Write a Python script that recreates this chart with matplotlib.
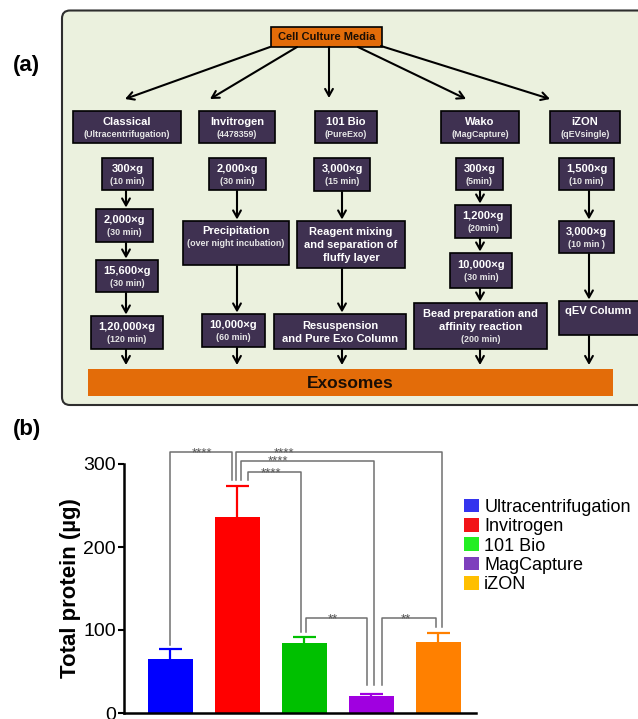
import matplotlib
matplotlib.use('Agg')
import matplotlib.pyplot as plt
from matplotlib.patches import Rectangle, FancyBboxPatch, Patch

plt.rcParams['font.family'] = ['Liberation Sans', 'DejaVu Sans']

# ---------------- data: panel (b) ----------------
methods = ['Ultracentrifugation', 'Invitrogen', '101 Bio', 'MagCapture', 'iZON']
protein_mean = [65, 236.5, 84, 20.5, 86]
protein_err = [12.5, 37, 8, 2.5, 10.5]
bar_colors = ['#0000FF', '#FF0000', '#00C000', '#A000E0', '#FF8000']
legend_colors = ['#3434EE', '#F21418', '#22EE22', '#7E3FBD', '#FFBF00']
yticks = [0, 100, 200, 300]
leg_bottom = [82, 281, 97, 34, 104]
# significance brackets: (group i, group j, label, bracket height)
sig_i = [0, 1, 1, 1, 2, 3]
sig_j = [1, 4, 3, 2, 3, 4]
sig_label = ['****', '****', '****', '****', '**', '**']
sig_level = [314, 314, 304, 290, 114, 114]

# ---------------- data: panel (a) flow chart ----------------
top_label = 'Cell Culture Media'
bottom_label = 'Exosomes'
headers = [('Classical', '(Ultracentrifugation)'),
           ('Invitrogen', '(4478359)'),
           ('101 Bio', '(PureExo)'),
           ('Wako', '(MagCapture)'),
           ('iZON', '(qEVsingle)')]
steps = [
    [[('300×g', 't'), ('(10 min)', 's')],
     [('2,000×g', 't'), ('(30 min)', 's')],
     [('15,600×g', 't'), ('(30 min)', 's')],
     [('1,20,000×g', 't'), ('(120 min)', 's')]],
    [[('2,000×g', 't'), ('(30 min)', 's')],
     [('Precipitation', 't'), ('(over night incubation)', 's')],
     [('10,000×g', 't'), ('(60 min)', 's')]],
    [[('3,000×g', 't'), ('(15 min)', 's')],
     [('Reagent mixing', 't'), ('and separation of', 't'), ('fluffy layer', 't')],
     [('Resuspension', 't'), ('and Pure Exo Column', 't')]],
    [[('300×g', 't'), ('(5min)', 's')],
     [('1,200×g', 't'), ('(20min)', 's')],
     [('10,000×g', 't'), ('(30 min)', 's')],
     [('Bead preparation and', 't'), ('affinity reaction', 't'), ('(200 min)', 's')]],
    [[('1,500×g', 't'), ('(10 min)', 's')],
     [('3,000×g', 't'), ('(10 min )', 's')],
     [('qEV Column', 't')]],
]

# ---------------- layout of the flow chart (pixels) ----------------
header_box = [(73, 181), (199, 275), (315, 377), (441, 519), (550, 620)]
step_box = [
    [(102, 153, 158, 190), (96, 153, 209, 242), (96, 158, 260, 292), (91, 163, 316, 349)],
    [(209, 266, 158, 190), (183, 289, 221, 265), (202, 265, 314, 347)],
    [(314, 370, 158, 191), (297, 405, 221, 268), (274, 406, 314, 349)],
    [(456, 503, 158, 190), (455, 511, 205, 238), (450, 512, 253, 288), (414, 547, 303, 349)],
    [(559, 614, 158, 190), (559, 614, 221, 253), (559, 640, 301, 335)],
]
step_anchor = [
    ['c', 'c', 'c', 'c'],
    ['c', 'top', 'c'],
    ['c', 'c', 'c'],
    ['c', 'c', 'c', 'c'],
    ['c', 'c', 'top'],
]
col_arrow_x = [126, 237, 342, 480, 589]
top_arrows = [((270, 47), (125, 99)), ((297, 47), (210, 99)), ((329, 47), (329, 98)),
              ((358, 47), (466, 99)), ((381, 46), (550, 99))]

W, H = 638, 719
fig = plt.figure(figsize=(W / 100, H / 100), dpi=100)
fig.patch.set_facecolor('white')

ax0 = fig.add_axes([0, 0, 1, 1], zorder=0)
ax0.set_xlim(0, W)
ax0.set_ylim(H, 0)
ax0.axis('off')

PURPLE = '#3F3151'
ORANGE = '#E36C09'
BG = '#EBF1DE'

ax0.add_patch(FancyBboxPatch((62, 10.5), 600, 394.5,
                             boxstyle='round,pad=0,rounding_size=8',
                             fc=BG, ec='#2e2e2e', lw=1.5))

# top box
ax0.add_patch(Rectangle((271, 27), 111, 20, fc=ORANGE, ec='black', lw=1.2))
ax0.text(326.5, 37.5, top_label, ha='center', va='center', fontsize=8,
         fontweight='bold', color='#1a0e05')

arrow_kw = dict(arrowstyle='->,head_length=0.5,head_width=0.28', lw=1.5,
                color='black', shrinkA=0, shrinkB=0, mutation_scale=10)

for (s, e) in top_arrows:
    ax0.annotate('', xy=e, xytext=s, arrowprops=arrow_kw)

LH = {'t': 13.0, 's': 12.0}
FS = {'t': 8, 's': 6.4}
FC = {'t': 'white', 's': '#e6e6e6'}


def draw_box(x0, x1, y0, y1, lines, anchor='c'):
    ax0.add_patch(Rectangle((x0, y0), x1 - x0, y1 - y0, fc=PURPLE, ec='black', lw=1.2))
    total = sum(LH[k] for _, k in lines)
    if anchor == 'top':
        y = y0 + 4.0
    else:
        y = (y0 + y1) / 2 - total / 2 + 0.8
    cx = (x0 + min(x1, W)) / 2
    for txt, k in lines:
        ax0.text(cx, y + LH[k] / 2, txt, ha='center', va='center',
                 fontsize=FS[k], fontweight='bold', color=FC[k])
        y += LH[k]


for (x0, x1), (t, s) in zip(header_box, headers):
    draw_box(x0, x1, 111, 143, [(t, 't'), (s, 's')])

for c in range(len(steps)):
    boxes = step_box[c]
    for b, lines, anc in zip(boxes, steps[c], step_anchor[c]):
        draw_box(*b, lines, anchor=anc)
    xa = col_arrow_x[c]
    for k in range(len(boxes)):
        ys = boxes[k][3] + 1
        ye = boxes[k + 1][2] - 1.5 if k + 1 < len(boxes) else 365
        ax0.annotate('', xy=(xa, ye), xytext=(xa, ys), arrowprops=arrow_kw)

# exosomes bar
ax0.add_patch(Rectangle((88, 369), 525, 27, fc=ORANGE, ec='none'))
ax0.text(350.5, 383, bottom_label, ha='center', va='center', fontsize=12.5,
         fontweight='bold', color='#1a0e05')

fig.text(13 / W, 1 - 66 / H, '(a)', fontsize=16, fontweight='bold', va='center', ha='left')
fig.text(13 / W, 1 - 430 / H, '(b)', fontsize=16, fontweight='bold', va='center', ha='left')

# ---------------- panel (b) ----------------
ax = fig.add_axes([124 / W, 1 - 713 / H, 352 / W, 249 / H], zorder=2)
ax.set_facecolor('none')
x = list(range(len(methods)))
ax.bar(x, protein_mean, width=0.67, color=bar_colors, zorder=2)
tops = [m + e for m, e in zip(protein_mean, protein_err)]
ax.vlines(x, protein_mean, tops, colors=bar_colors, lw=1.6, zorder=3)
ax.hlines(tops, [xi - 0.172 for xi in x], [xi + 0.172 for xi in x],
          colors=bar_colors, lw=1.6, zorder=3)

ax.set_xlim(-0.694, 4.56)
ax.set_ylim(0, 300)
ax.set_yticks(yticks)
ax.set_xticks([])
for sp in ['top', 'right']:
    ax.spines[sp].set_visible(False)
for sp in ['left', 'bottom']:
    ax.spines[sp].set_linewidth(1.8)
ax.tick_params(axis='y', labelsize=14, length=4, width=1.5, pad=2)
ax.set_ylabel('Total protein (µg)', fontsize=16, fontweight='bold')
ax.yaxis.set_label_coords(-0.122, 0.5)

# bracket leg offsets from bar centres and star label positions
leg_off_i = [0.0, -0.022, 0.052, 0.157, 0.018, 0.157]
leg_off_j = [-0.082, 0.048, 0.042, -0.057, -0.072, -0.042]
label_x = [0.47, 1.694, 1.604, 1.5, 2.43, 3.51]
for k in range(len(sig_i)):
    i, j = sig_i[k], sig_j[k]
    xi_, xj_ = i + leg_off_i[k], j + leg_off_j[k]
    lv = sig_level[k]
    ax.plot([xi_, xi_, xj_, xj_], [leg_bottom[i], lv, lv, leg_bottom[j]],
            color='#707070', lw=1.1, clip_on=False, zorder=4)
    ax.text(label_x[k], lv - 5, sig_label[k], ha='center', va='baseline',
            fontsize=9.5, color='#555555', clip_on=False, zorder=5)

handles = [Patch(facecolor=c, edgecolor='none') for c in legend_colors]
ax.legend(handles, methods, loc='center left', bbox_to_anchor=(464 / W, 1 - 546 / H),
          bbox_transform=fig.transFigure, frameon=False, fontsize=13,
          handlelength=0.82, handleheight=0.77, handletextpad=0.3,
          labelspacing=0.13, borderpad=0, borderaxespad=0)

fig.savefig('out.png', dpi=100)
